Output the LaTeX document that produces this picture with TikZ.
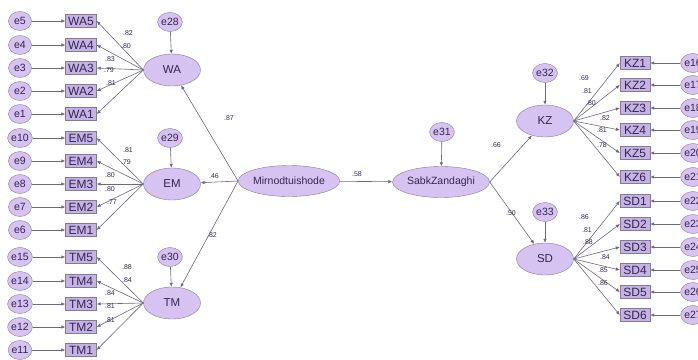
\documentclass[tikz,border=0pt]{standalone}
\usepackage{fontspec}
\setmainfont{Liberation Sans}
\usetikzlibrary{arrows.meta,shapes.geometric}
\definecolor{edgegray}{HTML}{857A96}
\definecolor{latfill}{HTML}{D6C3F2}
\definecolor{boxfill}{HTML}{C6B3E6}
\definecolor{txt}{HTML}{34264F}
\definecolor{linegray}{HTML}{6E6878}
\tikzset{
  errc/.style={ellipse,draw=edgegray,fill=latfill,minimum width=23pt,minimum height=19pt,inner sep=0pt,font=\fontsize{10.5}{10.5}\selectfont,text=txt},
  obs/.style={rectangle,draw=edgegray,fill=boxfill,minimum width=31pt,minimum height=13pt,inner sep=0pt,font=\fontsize{12}{12}\selectfont,text=txt},
  lat/.style={ellipse,draw=edgegray,fill=latfill,minimum width=57pt,minimum height=32pt,inner sep=0pt,font=\fontsize{11.5}{11.5}\selectfont,text=txt},
  biglat/.style={lat,minimum width=97pt,minimum height=31pt,font=\fontsize{10.5}{10.5}\selectfont},
  conn/.style={draw=linegray,line width=0.6pt,-{Latex[length=4pt,width=3.5pt]}},
  lbl/.style={font=\fontsize{7}{7}\selectfont,text=txt,inner sep=0pt}
}
\begin{document}
\begin{tikzpicture}[x=1pt,y=-1pt]
\useasboundingbox (0,0) rectangle (698,359);

% second-order factors and their disturbances
\node[biglat] (mir) at (289,181) {Mirnodtuishode};
\node[biglat] (sab) at (441,182) {SabkZandaghi};
\node[errc] (e31) at (442,132) {e31};

% first-order factors, left
\node[lat] (wa) at (172,70) {WA};
\node[lat] (em) at (172,184) {EM};
\node[lat] (tm) at (172,303) {TM};
\node[errc] (e28) at (170,22) {e28};
\node[errc] (e29) at (170,138) {e29};
\node[errc] (e30) at (170,257) {e30};

% first-order factors, right
\node[lat] (kz) at (545,121) {KZ};
\node[lat] (sd) at (545,259) {SD};
\node[errc] (e32) at (545,73) {e32};
\node[errc] (e33) at (545,212) {e33};

% indicators of the left factors with their error terms
\foreach \n/\e/\y in {WA5/e5/21,WA4/e4/45,WA3/e3/68,WA2/e2/91,WA1/e1/114,
                      EM5/e10/138,EM4/e9/161,EM3/e8/184,EM2/e7/207,EM1/e6/230,
                      TM5/e15/257,TM4/e14/281,TM3/e13/304,TM2/e12/327,TM1/e11/350}{
  \node[obs] (\n) at (81,\y) {\n};
  \node[errc] (\e) at (20,\y) {\e};
  \draw[conn] (\e) -- (\n);
}

% indicators of the right factors with their error terms
\foreach \n/\e/\y in {KZ1/e16/63,KZ2/e17/85,KZ3/e18/108,KZ4/e19/130,KZ5/e20/153,KZ6/e21/177,
                      SD1/e22/201,SD2/e23/224,SD3/e24/247,SD4/e25/270,SD5/e26/292,SD6/e27/315}{
  \node[obs,minimum width=30pt] (\n) at (635,\y) {\n};
  \node[errc] (\e) at (693,\y) {\e};
  \draw[conn] (\e) -- (\n);
}

% loadings
\foreach \f/\a/\b/\c/\d/\g in {wa/WA5/WA4/WA3/WA2/WA1, em/EM5/EM4/EM3/EM2/EM1, tm/TM5/TM4/TM3/TM2/TM1}{
  \foreach \n in {\a,\b,\c,\d,\g}{ \draw[conn] (\f.west) -- (\n.east); }
}
\foreach \n in {KZ1,KZ2,KZ3,KZ4,KZ5,KZ6}{ \draw[conn] (kz.east) -- (\n.west); }
\foreach \n in {SD1,SD2,SD3,SD4,SD5,SD6}{ \draw[conn] (sd.east) -- (\n.west); }

% disturbances
\foreach \e/\f in {e28/wa,e29/em,e30/tm,e31/sab,e32/kz,e33/sd}{ \draw[conn] (\e) -- (\f); }

% structural paths
\draw[conn] (mir.west) -- (wa);
\draw[conn] (mir.west) -- (em);
\draw[conn] (mir.west) -- (tm);
\draw[conn] (mir) -- (sab);
\draw[conn] (sab.east) -- (kz);
\draw[conn] (sab.east) -- (sd);

% coefficients
\node[lbl] (p1) at (229,118) {.87};
\node[lbl] (p2) at (214,176) {.46};
\node[lbl] (p3) at (212,235) {.82};
\node[lbl] (p4) at (357,174) {.58};
\node[lbl] (p5) at (496,145) {.66};
\node[lbl] (p6) at (511,213) {.50};

\foreach \x/\y/\t [count=\i] in {128/33/.82,126/46/.80,110/59/.83,109/70/.79,111/83/.81,
                     128/150/.81,126/162/.79,110/175/.80,110/189/.80,112/202/.77,
                     127/267/.88,127/280/.84,110/293/.84,110/306/.81,110/320/.81,
                     584/78/.69,587/91/.81,591/103/.80,605/118/.82,602/130/.81,602/145/.78,
                     584/217/.86,587/230/.81,588/242/.88,605/257/.84,603/270/.85,603/283/.86}{
  \node[lbl] (c\i) at (\x,\y) {\t};
}
\end{tikzpicture}
\end{document}
